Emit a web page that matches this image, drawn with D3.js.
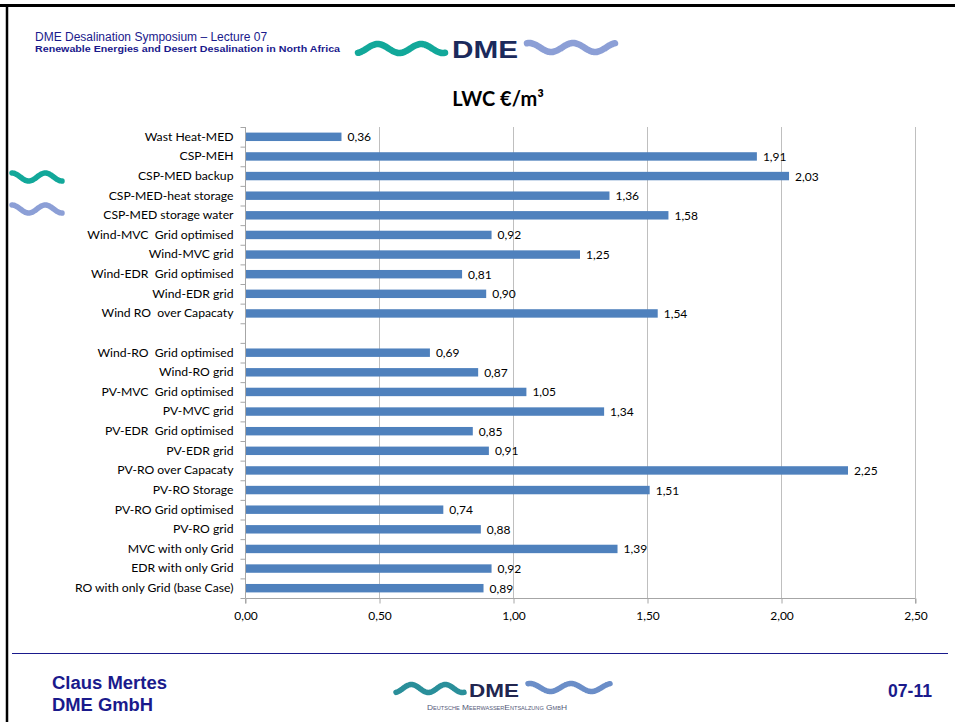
<!DOCTYPE html>
<html>
<head>
<meta charset="utf-8">
<script src="https://cdn.jsdelivr.net/npm/d3@7"></script>
<style>
  html, body { margin: 0; padding: 0; background: #fff; }
  svg { display: block; }
</style>
</head>
<body>
<svg id="slide" width="955" height="722"></svg>
<script>
// Levelised water cost per desalination option (€/m³); the empty label is a spacer row
const categories = [
  "Wast Heat-MED",
  "CSP-MEH",
  "CSP-MED backup",
  "CSP-MED-heat storage",
  "CSP-MED storage water",
  "Wind-MVC  Grid optimised",
  "Wind-MVC grid",
  "Wind-EDR  Grid optimised",
  "Wind-EDR grid",
  "Wind RO  over Capacaty",
  "",
  "Wind-RO  Grid optimised",
  "Wind-RO grid",
  "PV-MVC  Grid optimised",
  "PV-MVC grid",
  "PV-EDR  Grid optimised",
  "PV-EDR grid",
  "PV-RO over Capacaty",
  "PV-RO Storage",
  "PV-RO Grid optimised",
  "PV-RO grid",
  "MVC with only Grid",
  "EDR with only Grid",
  "RO with only Grid (base Case)"
];
const values = [
  0.36, 1.91, 2.03, 1.36, 1.58, 0.92, 1.25, 0.81, 0.90, 1.54,
  null,
  0.69, 0.87, 1.05, 1.34, 0.85, 0.91, 2.25, 1.51, 0.74, 0.88, 1.39, 0.92, 0.89
];
const xTicks = [0, 0.5, 1.0, 1.5, 2.0, 2.5];

const chartTitle = "LWC €/m³";
const headerLine1 = "DME Desalination Symposium – Lecture 07";
const headerLine2 = "Renewable Energies and Desert Desalination in North Africa";
const footerName = "Claus Mertes";
const footerCompany = "DME GmbH";
const pageNumber = "07-11";
const logoText = "DME";
const logoSubtitle = "Deutsche MeerwasserEntsalzung GmbH";

const svg = d3.select("#slide");
const navy = "#1a1a8c";
const sans = "'Liberation Sans', Arial, sans-serif";
const comma = v => d3.format(".2f")(v).replace(".", ",");

// ---------- slide frame ----------
svg.append("line").attr("x1", 0).attr("x2", 955).attr("y1", 5.5).attr("y2", 5.5)
  .attr("stroke", "#000").attr("stroke-width", 3);
svg.append("line").attr("x1", 7).attr("x2", 7).attr("y1", 4).attr("y2", 722)
  .attr("stroke", "#000").attr("stroke-width", 2.5);

// ---------- wave decoration ----------
function wave(g, x0, width, yMid, amp, periods, phase, color, sw) {
  const n = 80;
  const pts = d3.range(n + 1).map(i => {
    const t = i / n;
    return [x0 + t * width, yMid - amp * Math.sin(phase + t * periods * 2 * Math.PI)];
  });
  g.append("path")
    .attr("d", d3.line().curve(d3.curveBasis)(pts))
    .attr("fill", "none")
    .attr("stroke", color)
    .attr("stroke-width", sw)
    .attr("stroke-linecap", "round");
}

// ---------- header ----------
const header = svg.append("g").attr("font-family", sans).attr("fill", navy);
header.append("text").attr("x", 35).attr("y", 40.5).attr("font-size", 12).text(headerLine1);
header.append("text").attr("x", 35).attr("y", 52).attr("font-size", 9).attr("font-weight", "bold")
  .attr("textLength", 305).attr("lengthAdjust", "spacingAndGlyphs").text(headerLine2);

const logoTop = svg.append("g");
wave(logoTop, 358, 87, 48.5, 4.5, 2, -Math.PI / 2 + 0.3, "#12a89a", 6.5);
logoTop.append("text").attr("x", 452).attr("y", 58)
  .attr("font-family", sans).attr("font-weight", "bold")
  .attr("font-size", 24).attr("fill", "#1b2a5c")
  .attr("textLength", 66).attr("lengthAdjust", "spacingAndGlyphs").text(logoText);
wave(logoTop, 527, 88, 47.5, 4.5, 2, Math.PI / 2 - 0.3, "#8c9fd6", 6.5);

// side decorations
wave(svg, 12, 50, 177, 4, 1.5, Math.PI / 2, "#12a89a", 5.5);
wave(svg, 12, 50, 209, 4, 1.5, Math.PI / 2, "#8c9fd6", 5.5);

// ---------- chart ----------
const chartFont = "Lato, 'Open Sans', sans-serif";
const x = d3.scaleLinear().domain([0, 2.5]).range([245, 915]);
const y = d3.scaleBand().domain(d3.range(categories.length)).range([127, 598])
  .paddingInner(0.57).paddingOuter(0.285);
const step = y.step();

svg.append("text").attr("x", 498).attr("y", 106).attr("text-anchor", "middle")
  .attr("font-family", chartFont).attr("font-weight", "bold").attr("font-size", 20)
  .attr("fill", "#000").text(chartTitle);

// vertical gridlines
const grid = svg.append("g");
grid.selectAll("line").data(xTicks.slice(1)).join("line")
  .attr("x1", d => x(d) + 0.5).attr("x2", d => x(d) + 0.5)
  .attr("y1", 127).attr("y2", 598)
  .attr("stroke", "#bfbfbf").attr("stroke-width", 1);

// bottom axis
const xAxis = svg.append("g").attr("transform", "translate(0.5,598.5)")
  .call(d3.axisBottom(x).tickValues(xTicks).tickFormat(comma).tickSize(5).tickPadding(8));
xAxis.select(".domain").attr("stroke", "#a6a6a6").attr("d", `M${x(0)},5V0H${x(2.5)}V5`);
xAxis.selectAll(".tick line").attr("stroke", "#a6a6a6");
xAxis.selectAll(".tick text").attr("font-family", chartFont).attr("font-size", 12).attr("fill", "#000");

// left axis with category labels, tick marks on slot boundaries
const yAxis = svg.append("g").attr("transform", `translate(${x(0) + 0.5},0)`)
  .call(d3.axisLeft(y).tickFormat(i => categories[i]).tickSize(0).tickPadding(12));
yAxis.select(".domain").attr("stroke", "#a6a6a6").attr("d", "M0,127V598");
yAxis.selectAll(".tick text").attr("font-family", chartFont).attr("font-size", 12.2).attr("fill", "#000")
  .style("white-space", "pre");
yAxis.selectAll(".bnd").data(d3.range(categories.length + 1)).join("line")
  .attr("class", "bnd")
  .attr("x1", -5).attr("x2", 0)
  .attr("y1", i => 127 + i * step + 0.5).attr("y2", i => 127 + i * step + 0.5)
  .attr("stroke", "#a6a6a6");

// bars
const rows = categories.map((c, i) => ({ i, c, v: values[i] })).filter(d => d.v !== null);
svg.append("g").selectAll("rect").data(rows).join("rect")
  .attr("x", x(0) + 1)
  .attr("y", d => y(d.i))
  .attr("width", d => x(d.v) - x(0) - 1)
  .attr("height", y.bandwidth())
  .attr("fill", "#4f81bd");

// value labels
svg.append("g").selectAll("text").data(rows).join("text")
  .attr("x", d => x(d.v) + 6)
  .attr("y", d => y(d.i) + y.bandwidth() / 2 + 4.5)
  .attr("font-family", chartFont).attr("font-size", 12).attr("fill", "#000")
  .text(d => comma(d.v));

// ---------- footer ----------
svg.append("line").attr("x1", 12).attr("x2", 948).attr("y1", 653.5).attr("y2", 653.5)
  .attr("stroke", "#1a1a8c").attr("stroke-width", 1.2);
const footer = svg.append("g").attr("font-family", sans)
  .attr("font-weight", "bold").attr("fill", navy).attr("font-size", 17.5);
footer.append("text").attr("x", 52).attr("y", 689).attr("textLength", 115)
  .attr("lengthAdjust", "spacingAndGlyphs").text(footerName);
footer.append("text").attr("x", 52).attr("y", 711).attr("textLength", 101)
  .attr("lengthAdjust", "spacingAndGlyphs").text(footerCompany);
footer.append("text").attr("x", 888).attr("y", 697).attr("textLength", 44)
  .attr("lengthAdjust", "spacingAndGlyphs").text(pageNumber);

const logoBottom = svg.append("g");
wave(logoBottom, 396, 68, 688.5, 4, 2, -Math.PI / 2 + 0.3, "#2a8f9a", 5.5);
logoBottom.append("text").attr("x", 469).attr("y", 697)
  .attr("font-family", sans).attr("font-weight", "bold")
  .attr("font-size", 19).attr("fill", "#22264f")
  .attr("textLength", 50).attr("lengthAdjust", "spacingAndGlyphs").text(logoText);
wave(logoBottom, 528, 82, 687.5, 4, 2, Math.PI / 2 - 0.3, "#6b8ec8", 5.5);
logoBottom.append("text").attr("x", 427).attr("y", 710)
  .attr("font-family", sans).attr("font-size", 7.5)
  .attr("fill", "#555a78").style("font-variant", "small-caps")
  .attr("textLength", 140).attr("lengthAdjust", "spacingAndGlyphs").text(logoSubtitle);
</script>
</body>
</html>
